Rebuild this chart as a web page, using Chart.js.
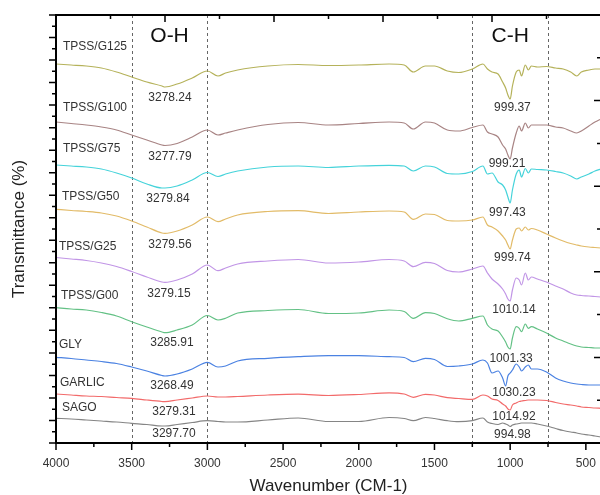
<!DOCTYPE html>
<html>
<head>
<meta charset="utf-8">
<script src="https://cdn.jsdelivr.net/npm/chart.js@4.4.1/dist/chart.umd.min.js"></script>
<style>
  html, body { margin: 0; padding: 0; background: #fff; overflow: hidden; }
  #wrap { width: 600px; height: 495px; overflow: hidden; }
</style>
</head>
<body>
<div id="wrap"><canvas id="ftir" width="612" height="495"></canvas></div>
<script>
// === FTIR spectra: wavenumber grid (cm-1) shared by every sample ===
var wavenumbers = [4000, 3900, 3800, 3700, 3600, 3500, 3400, 3300, 3280, 3200,
  3100, 3000, 2930, 2880, 2800, 2600, 2400, 2200, 2000, 1800,
  1700, 1640, 1560, 1500, 1415, 1340, 1250, 1180, 1150, 1120,
  1080, 1050, 1030, 1015, 1000, 985, 960, 940, 925, 900,
  880, 860, 820, 760, 700, 650, 600, 560, 530, 480,
  440, 400];
var xTicks = [4000, 3500, 3000, 2500, 2000, 1500, 1000, 500];

var seriesNames = ['TPSS/G125', 'TPSS/G100', 'TPSS/G75', 'TPSS/G50', 'TPSS/G25', 'TPSS/G00', 'GLY', 'GARLIC', 'SAGO'];
var seriesColors = ['#b5b25a', '#a88484', '#45d3da', '#e2bb68', '#c195e6', '#63c185', '#4b82e2', '#f26a6a', '#858585'];

// stacked transmittance (offset, arbitrary units)
var tpssG125 = [379, 378, 377, 375, 371, 366, 361, 357, 356, 359,
  365, 372, 367, 370, 373, 377, 378.5, 377.5, 378, 379,
  378, 371, 377, 377, 372, 370.5, 374, 379, 374, 371,
  369, 361, 355, 348, 344, 357, 371, 373, 367, 378,
  373, 377, 376, 376.5, 375, 374, 371, 367, 371, 373,
  374, 374];
var tpssG100 = [321, 319.5, 318, 316, 313, 308, 303, 298, 297.5, 299.5,
  306, 313, 308, 310, 313, 318.5, 320.5, 318, 319.5, 321,
  320, 314, 321, 320, 313, 312, 315.5, 318, 311, 309,
  306, 298, 294, 288, 284, 295, 310, 317, 312, 320,
  315, 318, 318, 318, 316, 315, 312, 310, 312, 317,
  321, 324];
var tpssG75 = [278, 277, 276, 274, 270, 265, 259, 255, 255, 257,
  263, 270.5, 266.5, 269, 272, 276, 277, 275.5, 277, 277.7,
  277, 272, 277, 276, 269.5, 269, 271.5, 277, 269, 270,
  261, 258, 253, 246, 240, 253, 269, 273, 266, 274.5,
  270, 274, 273.5, 273, 271.5, 270, 267, 264, 266, 269,
  272, 274];
var tpssG50 = [233.7, 232.5, 231.5, 230, 227, 222, 216, 210, 209.7, 212,
  218, 226, 221.3, 224, 228, 231.5, 232.3, 229.5, 231, 232,
  231, 223.7, 229, 228.5, 222.5, 222, 223, 226, 218, 216,
  212, 207, 203, 198, 194, 203, 214, 215, 212, 216,
  213, 214.5, 213, 209, 205, 202, 199.5, 198, 197, 196,
  195.5, 195];
var tpssG25 = [185.5, 184, 182.5, 180, 176.5, 171.5, 166, 161, 160.7, 163,
  169, 178, 172.3, 175, 179, 182, 183.5, 180, 181, 183.5,
  182, 176.3, 180.7, 179.5, 172.5, 171, 174, 177, 170, 164,
  159, 154, 149, 144, 142, 153, 165, 163, 158, 170,
  163, 166, 164, 161, 157, 154, 150, 148, 147.5, 147,
  146.5, 146];
var tpssG00 = [135.3, 134, 133, 130.5, 127, 121.3, 116, 111, 110.3, 113,
  118, 127.5, 123, 124.7, 130, 132.5, 133.5, 129.5, 130, 133,
  131.5, 124.7, 130.3, 129.5, 124.2, 122, 124.7, 127, 118, 114,
  112, 106, 101, 96, 94, 105, 116.3, 114.7, 111.3, 119,
  114.7, 116.3, 114, 110, 105, 102, 99, 97, 96, 95.5,
  95, 95];
var gly = [85.7, 84.5, 83, 81.5, 79.5, 76, 72, 67.5, 67, 69,
  74, 80.7, 76, 77, 82, 84.7, 86.3, 87.3, 87.3, 86.3,
  85.5, 81.3, 84.7, 83.5, 76.5, 77, 79, 83, 80, 70,
  72, 65, 57, 67, 70, 73, 79, 76, 72, 76,
  78, 74, 74, 71, 65, 62, 60, 59, 58.5, 58,
  58, 58];
var garlic = [49, 48, 47, 46.5, 45.5, 44.7, 43, 41.5, 41.3, 43,
  45, 47, 46, 46, 46.5, 48, 48.8, 47.5, 48.5, 50.2,
  49, 45.7, 48.7, 48, 45.3, 44.5, 43.7, 48, 47, 44,
  42.5, 39, 37, 34, 33, 38, 40, 41.5, 42, 42.5,
  43, 43, 43, 42.5, 40.5, 39, 38, 37, 36, 35.5,
  35, 34.7];
var sago = [24.7, 24, 23, 22, 21, 19.7, 18.5, 17, 17, 18.5,
  20.5, 22.3, 21.5, 21, 21, 23, 25, 21.5, 21.5, 25.5,
  24.5, 22.3, 25.5, 24.5, 22.3, 21.3, 22.3, 25, 21, 19.5,
  18.5, 20, 19, 18, 16.5, 18, 19, 19.5, 20, 20,
  20, 20, 19, 17, 14.5, 12.5, 11, 10, 9, 8,
  7, 6];
var seriesValues = [tpssG125, tpssG100, tpssG75, tpssG50, tpssG25, tpssG00, gly, garlic, sago];

// peak annotations
var ohPeaks = ['3278.24', '3277.79', '3279.84', '3279.56', '3279.15', '3285.91', '3268.49', '3279.31', '3297.70'];
var chPeaks = ['999.37', '999.21', '997.43', '999.74', '1010.14', '1001.33', '1030.23', '1014.92', '994.98'];
var bandLines = [3500, 3000, 1250, 750];
var bandNames = ['O-H', 'C-H'];
var bandCenters = [3250, 1000];

// label placement (data units) for the text annotations
var nameLabelY = [396, 335, 294, 246, 196, 147, 98, 60, 35];
var nameIndent = [7, 7, 7, 6, 3, 5, 3, 4, 6];
var ohLabelX = [3247, 3247, 3260, 3247, 3254, 3234, 3234, 3221, 3221];
var ohLabelY = [345, 286, 244, 198, 149, 100, 57, 31, 9];
var chLabelX = [985, 1021, 1018, 985, 975, 994, 975, 975, 985];
var chLabelY = [335, 279, 230, 185.5, 133, 84, 50, 26, 8];

var FONT = '"Liberation Sans", Arial, sans-serif';

var ftirDecor = {
  id: 'ftirDecor',
  beforeDatasetsDraw: function (chart) {
    var ctx = chart.ctx, a = chart.chartArea, xs = chart.scales.x;
    ctx.save();
    ctx.strokeStyle = '#666';
    ctx.lineWidth = 1;
    ctx.setLineDash([3, 3]);
    bandLines.forEach(function (w) {
      var px = Math.round(xs.getPixelForValue(w)) + 0.5;
      ctx.beginPath();
      ctx.moveTo(px, a.top);
      ctx.lineTo(px, a.bottom);
      ctx.stroke();
    });
    ctx.restore();
  },
  afterDraw: function (chart) {
    var ctx = chart.ctx, a = chart.chartArea, xs = chart.scales.x, ys = chart.scales.y;
    var h = a.bottom - a.top, wd = a.right - a.left, i, p, len;
    ctx.save();
    ctx.strokeStyle = '#000';
    ctx.lineWidth = 2;
    ctx.strokeRect(a.left, a.top, wd, h);

    ctx.lineWidth = 1.5;
    ctx.beginPath();
    // bottom axis: major 500, minor 250
    for (var w = 500; w <= 4000; w += 250) {
      p = xs.getPixelForValue(w);
      len = w % 500 === 0 ? 7 : 4;
      ctx.moveTo(p, a.bottom);
      ctx.lineTo(p, a.bottom + len);
    }
    // left axis ticks (outward)
    for (i = 0; i <= 38; i++) {
      p = a.top + i * h / 38;
      len = i % 2 === 0 ? 7 : 4;
      ctx.moveTo(a.left, p);
      ctx.lineTo(a.left - len, p);
    }
    // top and right ticks (inward)
    for (i = 0; i <= 10; i++) {
      len = i % 2 === 0 ? 7 : 4;
      p = a.left + i * wd / 10;
      ctx.moveTo(p, a.top);
      ctx.lineTo(p, a.top + len);
      p = a.top + i * h / 10;
      ctx.moveTo(a.right, p);
      ctx.lineTo(a.right - len, p);
    }
    ctx.stroke();

    ctx.fillStyle = '#333';
    ctx.textBaseline = 'middle';
    ctx.font = '12px ' + FONT;
    ctx.textAlign = 'left';
    seriesNames.forEach(function (n, k) {
      ctx.fillText(n, a.left + nameIndent[k], ys.getPixelForValue(nameLabelY[k]));
    });
    ctx.textAlign = 'center';
    ohPeaks.forEach(function (t, k) {
      ctx.fillText(t, xs.getPixelForValue(ohLabelX[k]), ys.getPixelForValue(ohLabelY[k]));
    });
    chPeaks.forEach(function (t, k) {
      ctx.fillText(t, xs.getPixelForValue(chLabelX[k]), ys.getPixelForValue(chLabelY[k]));
    });
    ctx.fillStyle = '#111';
    ctx.font = '21px ' + FONT;
    bandNames.forEach(function (t, k) {
      ctx.fillText(t, xs.getPixelForValue(bandCenters[k]), a.top + 21);
    });
    ctx.restore();
  }
};

new Chart(document.getElementById('ftir'), {
  type: 'line',
  data: {
    datasets: seriesValues.map(function (vals, i) {
      return {
        label: seriesNames[i],
        data: wavenumbers.map(function (w, j) { return { x: w, y: vals[j] }; }),
        borderColor: seriesColors[i],
        borderWidth: 1.2,
        pointRadius: 0,
        cubicInterpolationMode: 'monotone',
        fill: false
      };
    })
  },
  options: {
    responsive: false,
    animation: false,
    layout: { padding: { top: 15, right: 11, bottom: 0, left: 0 } },
    plugins: { legend: { display: false }, tooltip: { enabled: false } },
    scales: {
      x: {
        type: 'linear',
        reverse: true,
        min: 400,
        max: 4000,
        afterFit: function (s) { s.height = 52; },
        afterBuildTicks: function (s) {
          s.ticks = xTicks.map(function (v) { return { value: v }; });
        },
        grid: { display: false, drawTicks: false },
        border: { display: false },
        ticks: {
          padding: 13,
          autoSkip: false,
          maxRotation: 0,
          color: '#333',
          font: { family: FONT, size: 12 },
          callback: function (v) { return String(v); }
        },
        title: {
          display: true,
          text: 'Wavenumber (CM-1)',
          color: '#222',
          font: { family: FONT, size: 17, lineHeight: 1 },
          padding: 0
        }
      },
      y: {
        min: 0,
        max: 428,
        afterFit: function (s) { s.width = 56; },
        grid: { display: false, drawTicks: false },
        border: { display: false },
        ticks: { display: false },
        title: {
          display: true,
          text: 'Transmittance (%)',
          color: '#222',
          font: { family: FONT, size: 17, lineHeight: 1 },
          padding: { top: 11, bottom: 0 }
        }
      }
    }
  },
  plugins: [ftirDecor]
});
</script>
</body>
</html>
